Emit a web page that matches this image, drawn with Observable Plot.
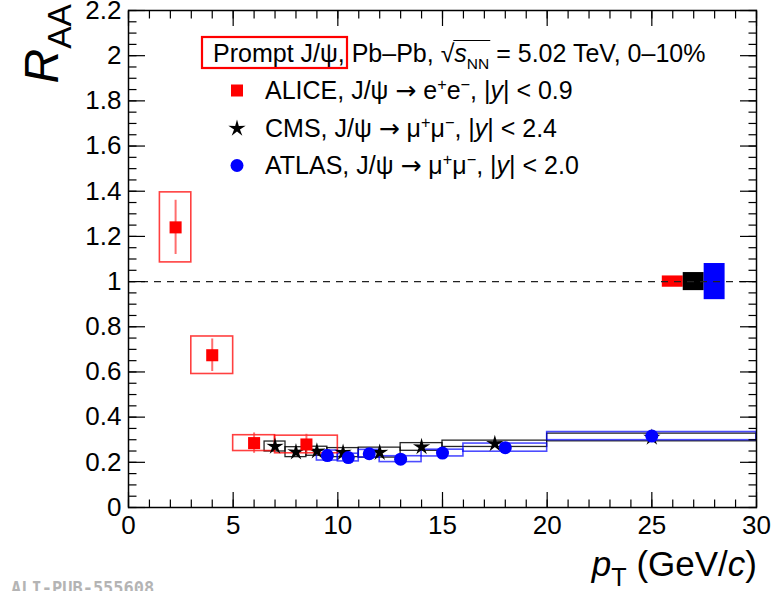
<!DOCTYPE html>
<html>
<head>
<meta charset="utf-8">
<script src="https://cdn.jsdelivr.net/npm/d3@7"></script>
<script src="https://cdn.jsdelivr.net/npm/@observablehq/plot@0.6"></script>
<style>
  html, body { margin: 0; padding: 0; background: #fff; overflow: hidden; }
  #chart svg { display: block; }
</style>
</head>
<body>
<div id="chart"></div>
<script>
// ALICE prompt J/psi -> e+e-, |y| < 0.9
const alicePtLow  = [1.5, 3, 5, 7];
const alicePtHigh = [3, 5, 7, 10];
const alicePt     = [2.25, 4, 6, 8.5];
const aliceRaa    = [1.24, 0.674, 0.285, 0.279];
const aliceStat   = [0.12, 0.072, 0.045, 0.045];
const aliceSyst   = [0.155, 0.083, 0.035, 0.039];

// CMS prompt J/psi -> mu+mu-, |y| < 2.4
const cmsPtLow  = [6.5, 7.5, 8.5, 9.5, 11, 13, 15, 20];
const cmsPtHigh = [7.5, 8.5, 9.5, 11, 13, 15, 20, 30];
const cmsPt     = [7, 8, 9, 10.25, 12, 14, 17.5, 25];
const cmsRaa    = [0.270, 0.245, 0.249, 0.243, 0.243, 0.268, 0.282, 0.310];
const cmsStat   = [0.012, 0.010, 0.010, 0.009, 0.009, 0.010, 0.010, 0.018];
const cmsSyst   = [0.022, 0.022, 0.020, 0.020, 0.022, 0.017, 0.014, 0.017];

// ATLAS prompt J/psi -> mu+mu-, |y| < 2.0
const atlasPtLow  = [9, 10, 11, 12, 14, 16, 20];
const atlasPtHigh = [10, 11, 12, 14, 16, 20, 30];
const atlasPt     = [9.5, 10.5, 11.5, 13, 15, 18, 25];
const atlasRaa    = [0.230, 0.221, 0.238, 0.214, 0.241, 0.265, 0.316];
const atlasStat   = [0.008, 0.008, 0.008, 0.007, 0.008, 0.009, 0.012];
const atlasSyst   = [0.022, 0.017, 0.017, 0.013, 0.015, 0.018, 0.018];

// Global (correlated) uncertainties, drawn as boxes around unity
const globalExp   = ["ALICE", "CMS", "ATLAS"];
const globalUnc   = [0.025, 0.04, 0.08];

// Axis ticks and labels
const xMajor = [0, 5, 10, 15, 20, 25, 30];
const yMajor = [0, 0.2, 0.4, 0.6, 0.8, 1, 1.2, 1.4, 1.6, 1.8, 2, 2.2];
const xMinor = d3.range(0, 31, 1);
const yMinor = d3.range(0, 45).map(i => +(i * 0.05).toFixed(2));

const colors = {ALICE: "#ff0000", CMS: "#000000", ATLAS: "#0000ff"};

const table = (pt, lo, hi, raa, stat, syst) =>
  pt.map((p, i) => ({pt: p, lo: lo[i], hi: hi[i], raa: raa[i], stat: stat[i], syst: syst[i]}));
const alice = table(alicePt, alicePtLow, alicePtHigh, aliceRaa, aliceStat, aliceSyst);
const cms   = table(cmsPt, cmsPtLow, cmsPtHigh, cmsRaa, cmsStat, cmsSyst);
const atlas = table(atlasPt, atlasPtLow, atlasPtHigh, atlasRaa, atlasStat, atlasSyst);
const globals = globalExp.map((name, i) => ({name, i, u: globalUnc[i]}));

// five-pointed star with slender arms, like the ROOT full-star marker
const thinStar = {
  draw(context, size) {
    const R = Math.sqrt(size) * 0.95, r = R * 0.34;
    for (let k = 0; k < 10; ++k) {
      const a = -Math.PI / 2 + k * Math.PI / 5;
      const rr = k % 2 ? r : R;
      const px = rr * Math.cos(a), py = rr * Math.sin(a);
      k ? context.lineTo(px, py) : context.moveTo(px, py);
    }
    context.closePath();
  }
};
const STAR_R = 5.4;

const boxes = (data, stroke, width, opacity) =>
  Plot.rect(data, {x1: "lo", x2: "hi", y1: d => d.raa - d.syst, y2: d => d.raa + d.syst,
    fill: "none", stroke, strokeWidth: width, strokeOpacity: opacity});
const bars = (data, stroke, width, opacity) =>
  Plot.ruleX(data, {x: "pt", y1: d => d.raa - d.stat, y2: d => d.raa + d.stat,
    stroke, strokeWidth: width, strokeOpacity: opacity});

const FONT = "'Liberation Sans', Arial, Helvetica, sans-serif";
const TICK_FONT = 26;

const svg = Plot.plot({
  width: 779,
  height: 591,
  marginLeft: 128,
  marginRight: 23,
  marginTop: 10,
  marginBottom: 84,
  style: {fontFamily: FONT, background: "#fff", color: "#000"},
  x: {domain: [0, 30]},
  y: {domain: [0, 2.2]},
  color: {type: "identity"},
  marks: [
    Plot.rect(globals, {x1: d => 25.5 + d.i, x2: d => 26.5 + d.i,
      y1: d => 1 - d.u, y2: d => 1 + d.u, fill: d => colors[d.name]}),
    Plot.ruleY([1], {stroke: "#222", strokeWidth: 1.2, strokeDasharray: "7,6"}),

    boxes(cms, "#000", 1.3, 0.85),
    boxes(atlas, "#0000ff", 1.6, 0.7),
    boxes(alice, "#ff0000", 1.6, 0.75),

    bars(cms, "#000", 1.5, 1),
    bars(atlas, "#0000ff", 1.5, 1),
    bars(alice, "#ff3030", 2, 0.7),

    Plot.dot(cms, {x: "pt", y: "raa", symbol: thinStar, r: STAR_R, fill: "#000", stroke: "none"}),
    Plot.dot(atlas, {x: "pt", y: "raa", symbol: "circle", r: 6.5, fill: "#0000ff", stroke: "none"}),
    Plot.dot(alice, {x: "pt", y: "raa", symbol: "square", r: 6.8, fill: "#ff0000", stroke: "none"}),

    // tick labels
    Plot.axisX(xMajor, {anchor: "bottom", tickSize: 0, tickPadding: 8, fontSize: TICK_FONT, label: null, tickFormat: d => String(d)}),
    Plot.axisY(yMajor, {anchor: "left", tickSize: 0, tickPadding: 7, fontSize: TICK_FONT, label: null, tickFormat: d => String(+d.toFixed(1))}),
    // inward tick marks on all four sides
    Plot.axisX(xMajor, {anchor: "bottom", text: null, tickSize: -15, strokeWidth: 1.2, label: null}),
    Plot.axisX(xMinor, {anchor: "bottom", text: null, tickSize: -7.5, strokeWidth: 1.2, label: null}),
    Plot.axisX(xMajor, {anchor: "top", text: null, tickSize: -15, strokeWidth: 1.2, label: null}),
    Plot.axisX(xMinor, {anchor: "top", text: null, tickSize: -7.5, strokeWidth: 1.2, label: null}),
    Plot.axisY(yMajor, {anchor: "left", text: null, tickSize: -17, strokeWidth: 1.2, label: null}),
    Plot.axisY(yMinor, {anchor: "left", text: null, tickSize: -8.5, strokeWidth: 1.2, label: null}),
    Plot.axisY(yMajor, {anchor: "right", text: null, tickSize: -17, strokeWidth: 1.2, label: null}),
    Plot.axisY(yMinor, {anchor: "right", text: null, tickSize: -8.5, strokeWidth: 1.2, label: null}),
    Plot.frame({stroke: "#000", strokeWidth: 1.5})
  ]
});

document.getElementById("chart").append(svg);

// ---- annotations: axis titles, legend, watermark ----
const root = d3.select(svg);
const layer = root.append("g")
  .attr("font-family", FONT)
  .attr("fill", "#000")
  .attr("text-anchor", "start");

// rich text: parts are [string, kind, subscale, family] with kind in "", "i", "sup", "sub"
function rich(parent, x, y, parts, size, anchor = "start") {
  const t = parent.append("text")
    .attr("x", x).attr("y", y)
    .attr("font-size", size)
    .attr("text-anchor", anchor)
    .style("white-space", "pre");
  let shift = 0;
  for (const [s, kind, sub = 0.65, family] of parts) {
    const ts = t.append("tspan").text(s);
    let target = 0, fs = size;
    if (kind === "sup") { target = -0.38 * size; fs = sub * size; }
    if (kind === "sub") { target = 0.28 * size; fs = sub * size; }
    if (kind === "i") ts.attr("font-style", "italic");
    if (family) ts.attr("font-family", family);
    ts.attr("font-size", fs);
    if (target !== shift) { ts.attr("dy", target - shift); shift = target; }
  }
  return t;
}

// y-axis title R_AA (rotated)
const yTitle = layer.append("g").attr("transform", "translate(58,4) rotate(-90)");
rich(yTitle, 0, 0, [["R", "i"], ["AA", "sub", 0.7]], 48, "end");

// x-axis title p_T (GeV/c)
rich(layer, 757, 576, [["p", "i"], ["T", "sub", 0.72], [" (GeV/", ""], ["c", "i"], [")", ""]], 35, "end");

// legend header with the collision system
const LEG = 25;
const ARROW = "'DejaVu Sans', sans-serif";
const head = rich(layer, 213, 62, [
  ["Prompt J/\u03c8, Pb\u2013Pb, \u221a", ""],
  ["s", "i"], ["NN", "sub", 0.62],
  [" = 5.02 TeV, 0\u201310%", ""]
], LEG);
{
  const node = head.node();
  const pre = "Prompt J/\u03c8, Pb\u2013Pb, \u221a".length;
  const xs = node.getEndPositionOfChar(pre - 1).x - 1;
  const xe = node.getEndPositionOfChar(pre + 2).x + 1;
  layer.append("line").attr("x1", xs).attr("x2", xe)
    .attr("y1", 62 - 0.86 * LEG).attr("y2", 62 - 0.86 * LEG)
    .attr("stroke", "#000").attr("stroke-width", 1.1);
  layer.append("rect").attr("x", 202).attr("y", 37)
    .attr("width", 145).attr("height", 31)
    .attr("fill", "none").attr("stroke", "#ff0000").attr("stroke-width", 2.2);
}

const entries = [
  {y: 99, sym: "square", color: colors.ALICE, parts: [["ALICE, J/\u03c8 ", ""], ["\u2192", "", 1, ARROW], [" e", ""], ["+", "sup"], ["e", ""], ["\u2212", "sup"], [", |", ""], ["y", "i"], ["| < 0.9", ""]]},
  {y: 137, sym: "star", color: colors.CMS, parts: [["CMS, J/\u03c8 ", ""], ["\u2192", "", 1, ARROW], [" \u03bc", ""], ["+", "sup"], ["\u03bc", ""], ["\u2212", "sup"], [", |", ""], ["y", "i"], ["| < 2.4", ""]]},
  {y: 174, sym: "circle", color: colors.ATLAS, parts: [["ATLAS, J/\u03c8 ", ""], ["\u2192", "", 1, ARROW], [" \u03bc", ""], ["+", "sup"], ["\u03bc", ""], ["\u2212", "sup"], [", |", ""], ["y", "i"], ["| < 2.0", ""]]}
];
for (const e of entries) {
  const cy = e.y - 8.5;
  if (e.sym === "square") {
    layer.append("rect").attr("x", 231).attr("y", cy - 6).attr("width", 12).attr("height", 12).attr("fill", e.color);
  } else if (e.sym === "circle") {
    layer.append("circle").attr("cx", 237).attr("cy", cy).attr("r", 6.5).attr("fill", e.color);
  } else {
    layer.append("path").attr("transform", `translate(237,${cy})`)
      .attr("d", d3.symbol(thinStar, Math.PI * STAR_R * STAR_R)()).attr("fill", e.color);
  }
  rich(layer, 265, e.y, e.parts, LEG);
}

// publication watermark
layer.append("text").attr("x", 11).attr("y", 594)
  .attr("text-anchor", "start")
  .attr("font-family", "'DejaVu Sans Mono', monospace").attr("font-weight", "bold")
  .attr("font-size", 17).attr("fill", "#b4b4b4")
  .text("ALI-PUB-555608");
</script>
</body>
</html>
